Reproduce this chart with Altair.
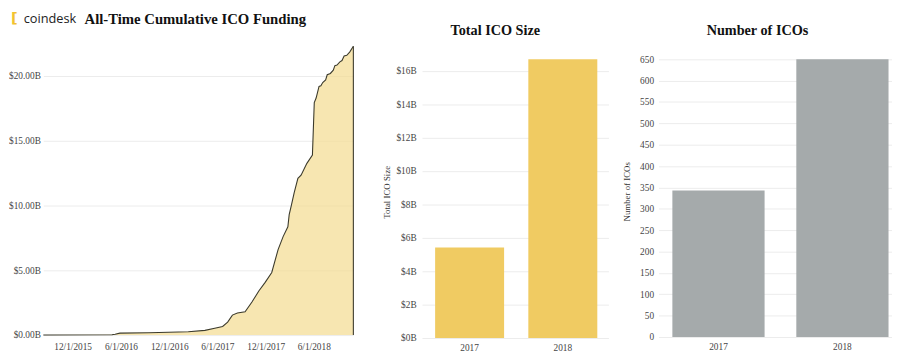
import altair as alt
import pandas as pd

# ---------------- data ----------------
cum_dates = [
    "2015-08-12", "2016-04-28", "2016-05-10", "2016-05-28", "2016-09-15",
    "2017-02-11", "2017-04-15", "2017-05-22", "2017-06-21", "2017-07-10",
    "2017-07-28", "2017-08-16", "2017-09-14", "2017-10-10", "2017-11-05",
    "2017-11-29", "2017-12-24", "2018-01-17", "2018-02-05", "2018-02-23",
    "2018-02-28", "2018-03-08", "2018-03-19", "2018-04-02", "2018-04-14",
    "2018-05-06", "2018-05-27", "2018-06-03", "2018-06-10", "2018-06-21",
    "2018-06-28", "2018-07-05", "2018-07-16", "2018-07-22", "2018-08-03",
    "2018-08-14", "2018-08-20", "2018-08-28", "2018-09-08", "2018-09-16",
    "2018-09-24", "2018-10-04", "2018-10-15", "2018-10-29",
]
cum_funding_b = [
    0.0, 0.02, 0.06, 0.15, 0.18,
    0.25, 0.36, 0.53, 0.66, 1.0,
    1.54, 1.7, 1.8, 2.55, 3.4,
    4.07, 4.83, 6.6, 7.6, 8.36,
    9.3, 10.0, 11.0, 12.1, 12.35,
    13.26, 13.9, 17.95, 18.3, 19.2,
    19.25, 19.5, 19.7, 20.1, 20.2,
    20.45, 20.8, 20.85, 21.1, 21.2,
    21.55, 21.6, 21.85, 22.3,
]
x_tick_dates = ["2015-12-01", "2016-06-01", "2016-12-01",
                "2017-06-01", "2017-12-01", "2018-06-01"]
left_y_ticks = [0, 5, 10, 15, 20]

years = ["2017", "2018"]
total_ico_size_b = [5.42, 16.68]
number_of_icos = [343, 650]
size_ticks = [0, 2, 4, 6, 8, 10, 12, 14, 16]
count_ticks = list(range(0, 651, 50))

left_title = "All-Time Cumulative ICO Funding"
brand_name = "coindesk"

SERIF = "Liberation Serif"
LINE = "#3b3a2c"

cum_df = pd.DataFrame({"date": cum_dates, "funding": cum_funding_b})
last_df = cum_df.tail(1).assign(zero=0.0)
bars_df = pd.DataFrame({"year": years, "size": total_ico_size_b, "count": number_of_icos})


def to_dt(s):
    t = pd.Timestamp(s)
    return alt.DateTime(year=t.year, month=t.month, date=t.day)


# ---------------- left: cumulative area ----------------
x_enc = alt.X(
    "date:T",
    scale=alt.Scale(nice=False),
    axis=alt.Axis(title=None, format="%-m/%-d/%Y", values=[to_dt(d) for d in x_tick_dates],
                  grid=False, domain=False, ticks=False, labelPadding=7),
)
y_enc = alt.Y(
    "funding:Q",
    scale=alt.Scale(domain=[0, 22.35], nice=False),
    axis=alt.Axis(title=None, values=left_y_ticks,
                  labelExpr="'$' + format(datum.value, '.2f') + 'B'",
                  domain=False, ticks=False, labelPadding=3),
)

area = alt.Chart(cum_df).mark_area(
    color="#F4DC90", line={"color": LINE, "strokeWidth": 1.1}, interpolate="linear"
).encode(x=x_enc, y=y_enc)

edge = alt.Chart(last_df).mark_rule(color=LINE, strokeWidth=1.1).encode(
    x="date:T", y="zero:Q", y2="funding:Q"
)

brand = alt.Chart(pd.DataFrame({"t": [brand_name]})).mark_text(
    align="left", baseline="middle", font="Open Sans", fontSize=13, color="#222"
).encode(x=alt.value(-20), y=alt.value(-27), text="t:N")

logo = alt.Chart(pd.DataFrame({"t": ["["]})).mark_text(
    align="left", baseline="middle", font="DejaVu Sans", fontWeight="bold",
    fontSize=15, color="#F2C230"
).encode(x=alt.value(-33), y=alt.value(-28), text="t:N")

head = alt.Chart(pd.DataFrame({"t": [left_title]})).mark_text(
    align="left", baseline="middle", font=SERIF, fontWeight="bold",
    fontSize=15, color="#111"
).encode(x=alt.value(42), y=alt.value(-27), text="t:N")

left = alt.layer(area, edge, brand, logo, head).properties(width=316, height=295)

# ---------------- middle: total ICO size ----------------
middle = alt.Chart(bars_df).mark_bar(color="#F0CB62").encode(
    x=alt.X("year:N",
            scale=alt.Scale(paddingInner=0.26, paddingOuter=0.13, align=0.54),
            axis=alt.Axis(title=None, labelAngle=0, domain=False, ticks=False, labelPadding=5)),
    y=alt.Y("size:Q",
            scale=alt.Scale(domain=[0, 17.5], nice=False),
            axis=alt.Axis(title="Total ICO Size", values=size_ticks,
                          labelExpr="'$' + datum.value + 'B'",
                          domain=False, ticks=False, labelPadding=6, titlePadding=5)),
).properties(
    width=190, height=298,
    title=alt.Title("Total ICO Size", fontSize=14.5, anchor="middle", frame="bounds", offset=7),
)

# ---------------- right: number of ICOs ----------------
right = alt.Chart(bars_df).mark_bar(color="#A5AAAB").encode(
    x=alt.X("year:N",
            scale=alt.Scale(paddingInner=0.256, paddingOuter=0.07, align=0.8),
            axis=alt.Axis(title=None, labelAngle=0, domain=False, ticks=False, labelPadding=5)),
    y=alt.Y("count:Q",
            scale=alt.Scale(domain=[0, 682], nice=False),
            axis=alt.Axis(title="Number of ICOs", values=count_ticks,
                          domain=False, ticks=False, labelPadding=5, titlePadding=8)),
).properties(
    width=238, height=297,
    title=alt.Title("Number of ICOs", fontSize=14.5, anchor="middle", frame="bounds", offset=7),
)

chart = alt.hconcat(
    left, alt.hconcat(middle, right, spacing=14), spacing=26
).properties(
    padding=0, background="white"
).configure_view(
    stroke=None
).configure_axis(
    labelFont=SERIF, labelFontSize=9.5, labelColor="#444",
    titleFont=SERIF, titleFontSize=9, titleFontWeight="normal", titleColor="#333",
    gridColor="#ececec", gridWidth=1,
).configure_title(
    font=SERIF, fontWeight="bold", color="#111",
)

chart.save("out.html", embed_options={"renderer": "svg", "actions": False})
